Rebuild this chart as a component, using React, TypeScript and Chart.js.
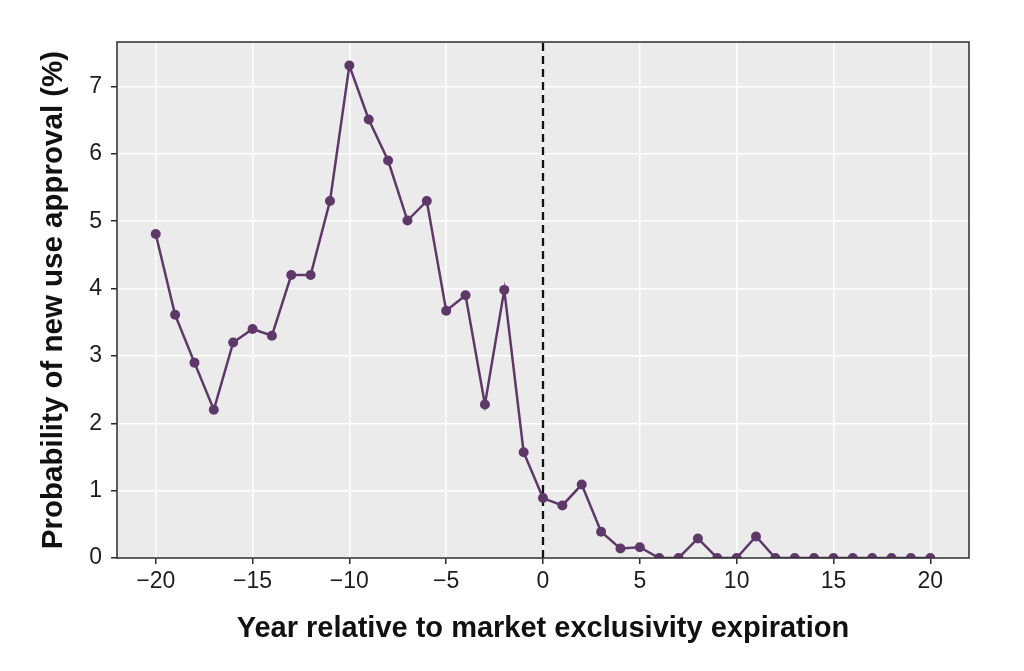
import React, { useEffect, useRef } from "react";
import { Chart, registerables } from "chart.js";

Chart.register(...registerables);

const years: number[] = [
  -20, -19, -18, -17, -16, -15, -14, -13, -12, -11, -10, -9, -8, -7, -6, -5, -4, -3, -2, -1,
  0, 1, 2, 3, 4, 5, 6, 7, 8, 9, 10, 11, 12, 13, 14, 15, 16, 17, 18, 19, 20,
];
const probability: number[] = [
  4.81, 3.61, 2.9, 2.2, 3.2, 3.4, 3.3, 4.2, 4.2, 5.3, 7.31, 6.51, 5.9, 5.01, 5.3, 3.67, 3.9, 2.28, 3.98, 1.57,
  0.89, 0.78, 1.09, 0.39, 0.14, 0.16, 0, 0, 0.29, 0, 0, 0.32, 0, 0, 0, 0, 0, 0, 0, 0, 0,
];
const xTicks: number[] = [-20, -15, -10, -5, 0, 5, 10, 15, 20];
const yTicks: number[] = [0, 1, 2, 3, 4, 5, 6, 7];
const xRange: number[] = [-22, 22];
const yRange: number[] = [0, 7.66];
const expiryYear = 0;

const FONT = "'Liberation Sans', Arial, Helvetica, sans-serif";

const panelPlugin = {
  id: "panel",
  beforeDraw(chart: any) {
    const { ctx, chartArea } = chart;
    ctx.save();
    ctx.fillStyle = "#ffffff";
    ctx.fillRect(0, 0, chart.width, chart.height);
    ctx.fillStyle = "#ebebeb";
    ctx.fillRect(chartArea.left, chartArea.top, chartArea.right - chartArea.left, chartArea.bottom - chartArea.top);
    ctx.restore();
  },
  afterDraw(chart: any) {
    const { ctx, chartArea } = chart;
    ctx.save();
    ctx.strokeStyle = "#2b2b2b";
    ctx.lineWidth = 1.5;
    ctx.strokeRect(chartArea.left, chartArea.top, chartArea.right - chartArea.left, chartArea.bottom - chartArea.top);
    ctx.restore();
  },
};

export default function App() {
  const canvasRef = useRef<HTMLCanvasElement | null>(null);

  useEffect(() => {
    if (!canvasRef.current) return;
    const points = years.map((x, i) => ({ x, y: probability[i] }));
    const chart = new Chart(canvasRef.current, {
      type: "line",
      data: {
        datasets: [
          {
            label: "expiry",
            data: [
              { x: expiryYear, y: yRange[0] },
              { x: expiryYear, y: yRange[1] },
            ],
            borderColor: "#111111",
            borderWidth: 2.3,
            borderDash: [8, 5],
            pointRadius: 0,
            clip: 0,
            order: 2,
          },
          {
            label: "Probability",
            data: points,
            borderColor: "#5e3868",
            backgroundColor: "#5e3868",
            borderWidth: 2.5,
            pointRadius: 5,
            pointHoverRadius: 5,
            pointBorderWidth: 0,
            tension: 0,
            clip: 0,
            order: 1,
          },
        ],
      },
      options: {
        animation: false,
        responsive: false,
        events: [],
        layout: { padding: { left: 0, top: 42, right: 55, bottom: 0 } },
        plugins: {
          legend: { display: false },
          tooltip: { enabled: false },
        },
        scales: {
          x: {
            type: "linear",
            min: xRange[0],
            max: xRange[1],
            afterBuildTicks: (scale: any) => {
              scale.ticks = xTicks.map((v) => ({ value: v }));
            },
            afterFit: (scale: any) => {
              scale.height = 113;
            },
            border: { display: false },
            grid: {
              color: "#ffffff",
              lineWidth: 1.5,
              drawTicks: true,
              tickLength: 6,
              tickColor: "#2b2b2b",
              tickWidth: 1.5,
            },
            ticks: {
              color: "#1e1e1e",
              padding: 4,
              maxRotation: 0,
              autoSkip: false,
              font: { family: FONT, size: 23 },
              callback: (v: any) => (Number(v) < 0 ? "\u2212" + Math.abs(Number(v)) : String(v)),
            },
            title: {
              display: true,
              text: "Year relative to market exclusivity expiration",
              color: "#111111",
              font: { family: FONT, size: 29, weight: "bold" },
              padding: { top: 0, bottom: 25 },
            },
          },
          y: {
            type: "linear",
            min: yRange[0],
            max: yRange[1],
            afterBuildTicks: (scale: any) => {
              scale.ticks = yTicks.map((v) => ({ value: v }));
            },
            afterFit: (scale: any) => {
              scale.width = 117;
            },
            border: { display: false },
            grid: {
              color: "#ffffff",
              lineWidth: 1.5,
              drawTicks: true,
              tickLength: 6,
              tickColor: "#2b2b2b",
              tickWidth: 1.5,
            },
            ticks: {
              color: "#1e1e1e",
              padding: 9,
              autoSkip: false,
              font: { family: FONT, size: 23 },
              callback: (v: any) => String(v),
            },
            title: {
              display: true,
              text: "Probability of new use approval (%)",
              color: "#111111",
              font: { family: FONT, size: 29.5, weight: "bold" },
              padding: { top: 36, bottom: 0 },
            },
          },
        },
      },
      plugins: [panelPlugin],
    } as any);
    return () => chart.destroy();
  }, []);

  return (
    <div style={{ position: "absolute", left: 0, top: 0, width: 1024, height: 671, background: "#fff" }}>
      <canvas ref={canvasRef} width={1024} height={671} style={{ width: 1024, height: 671, display: "block" }} />
    </div>
  );
}
